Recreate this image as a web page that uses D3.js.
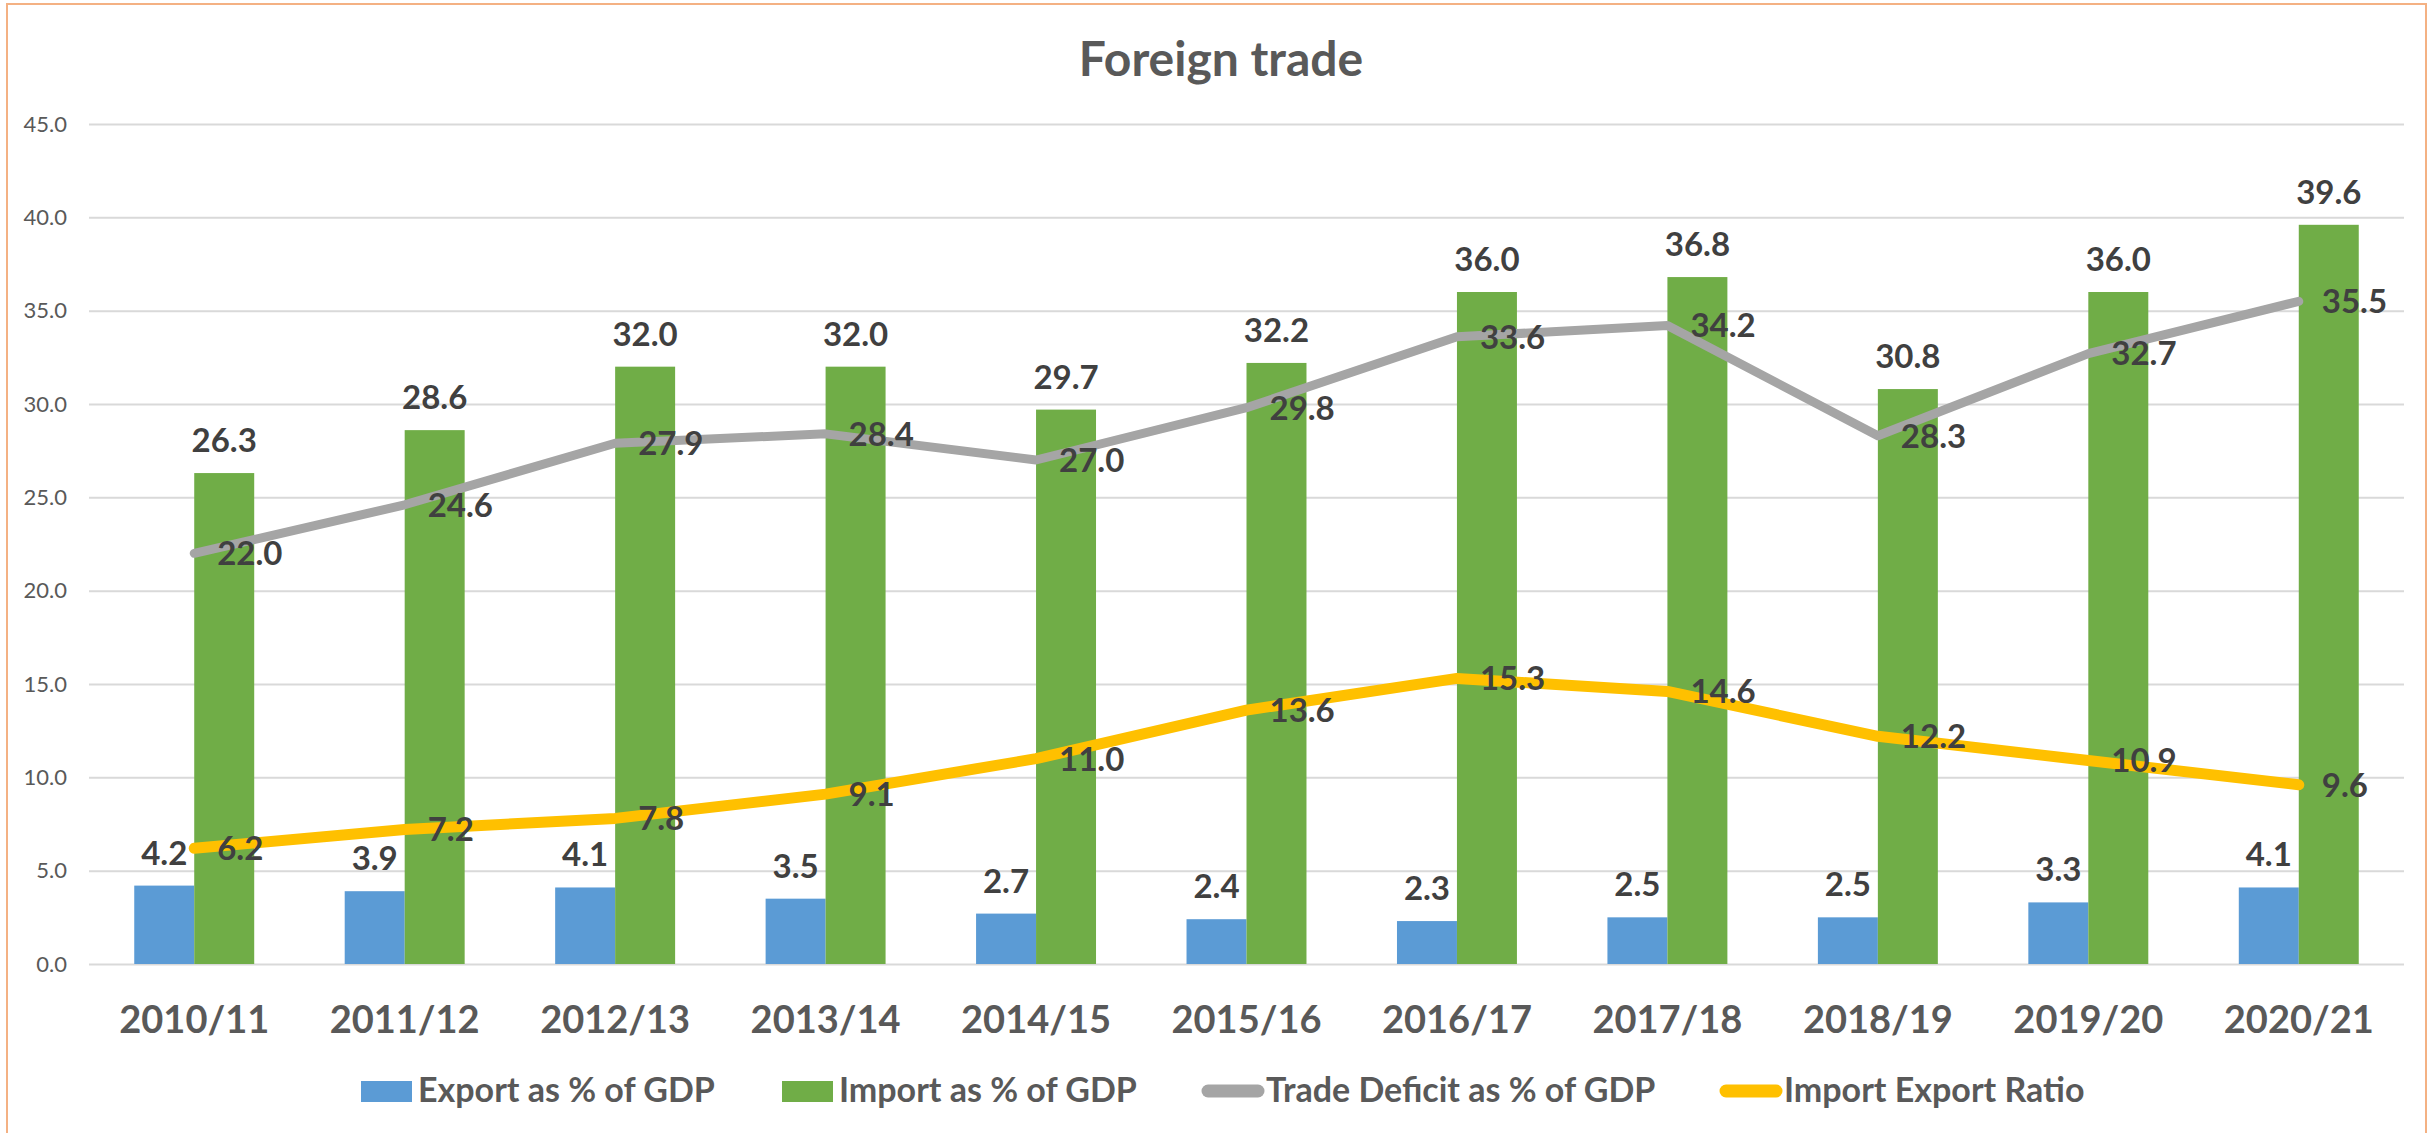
<!DOCTYPE html>
<html>
<head>
<meta charset="utf-8">
<script src="https://cdn.jsdelivr.net/npm/d3@7"></script>
<style>
    body { margin: 0; background: #fff; }
    svg text { font-family: Lato, "Open Sans", sans-serif; }
</style>
</head>
<body>
<div id="chart"></div>
<script>
// values
var years = ["2010/11", "2011/12", "2012/13", "2013/14", "2014/15", "2015/16",
             "2016/17", "2017/18", "2018/19", "2019/20", "2020/21"];
var exportPct = [4.2, 3.9, 4.1, 3.5, 2.7, 2.4, 2.3, 2.5, 2.5, 3.3, 4.1];
var importPct = [26.3, 28.6, 32.0, 32.0, 29.7, 32.2, 36.0, 36.8, 30.8, 36.0, 39.6];
var deficitPct = [22.0, 24.6, 27.9, 28.4, 27.0, 29.8, 33.6, 34.2, 28.3, 32.7, 35.5];
var importExportRatio = [6.2, 7.2, 7.8, 9.1, 11.0, 13.6, 15.3, 14.6, 12.2, 10.9, 9.6];
var yTicks = [0, 5, 10, 15, 20, 25, 30, 35, 40, 45];

var legendItems = [
    { name: "Export as % of GDP", color: "#5B9BD5", type: "bar" },
    { name: "Import as % of GDP", color: "#70AD47", type: "bar" },
    { name: "Trade Deficit as % of GDP", color: "#A5A5A5", type: "line" },
    { name: "Import Export Ratio", color: "#FFC000", type: "line" }
];

var width = 2430,
    height = 1133,
    plotLeft = 89,
    plotRight = 2404,
    plotTop = 124,
    plotBottom = 964;

var svg = d3.select("#chart")
    .append("svg")
    .attr("width", width)
    .attr("height", height);

// chart border
svg.append("rect")
    .attr("x", 7).attr("y", 4)
    .attr("width", 2419).attr("height", 1140)
    .attr("fill", "none")
    .attr("stroke", "#F4B183")
    .attr("stroke-width", 2);

svg.append("text")
    .attr("x", 1221).attr("y", 76)
    .attr("text-anchor", "middle")
    .attr("font-size", 48)
    .attr("font-weight", "bold")
    .attr("fill", "#595959")
    .text("Foreign trade");

var x = d3.scaleBand()
    .domain(years)
    .range([plotLeft, plotRight])
    .paddingInner(0.43)
    .paddingOuter(0.215);

var xSub = d3.scaleBand()
    .domain(["export", "import"])
    .range([0, x.bandwidth()]);

var y = d3.scaleLinear()
    .domain([0, 45])
    .range([plotBottom, plotTop]);

var mid = function(d) { return x(d) + x.bandwidth() / 2; };

/* gridlines + y labels */
var yAxis = d3.axisLeft(y)
    .tickValues(yTicks)
    .tickFormat(d3.format(".1f"))
    .tickSize(-(plotRight - plotLeft))
    .tickPadding(22);

var gy = svg.append("g")
    .attr("transform", "translate(" + plotLeft + ",0)")
    .call(yAxis);
gy.select(".domain").remove();
gy.selectAll("line").attr("stroke", "#D9D9D9").attr("stroke-width", 2);
gy.selectAll("text")
    .attr("font-size", 22)
    .attr("fill", "#595959")
    .style("font-family", "Lato, sans-serif");

/* x labels */
var xAxis = d3.axisBottom(x).tickSize(0).tickPadding(0);
var gx = svg.append("g")
    .attr("transform", "translate(0," + plotBottom + ")")
    .call(xAxis);
gx.select(".domain").remove();
gx.selectAll("text")
    .attr("y", 69)
    .attr("dy", 0)
    .attr("font-size", 38)
    .attr("font-weight", "bold")
    .attr("fill", "#595959")
    .style("font-family", "Lato, sans-serif");

/* bars */
var bars = [
    { key: "export", values: exportPct, color: "#5B9BD5" },
    { key: "import", values: importPct, color: "#70AD47" }
];

bars.forEach(function(s) {
    svg.append("g")
        .selectAll("rect")
        .data(years)
        .enter().append("rect")
        .attr("x", function(d) { return x(d) + xSub(s.key); })
        .attr("y", function(d, i) { return y(s.values[i]); })
        .attr("width", xSub.bandwidth())
        .attr("height", function(d, i) { return plotBottom - y(s.values[i]); })
        .attr("fill", s.color);
});

/* lines */
var lines = [
    { values: deficitPct, color: "#A5A5A5", width: 9 },
    { values: importExportRatio, color: "#FFC000", width: 11 }
];

lines.forEach(function(s) {
    var line = d3.line()
        .x(function(d, i) { return mid(years[i]); })
        .y(function(d) { return y(d); });
    svg.append("path")
        .datum(s.values)
        .attr("d", line)
        .attr("fill", "none")
        .attr("stroke", s.color)
        .attr("stroke-width", s.width)
        .attr("stroke-linecap", "round")
        .attr("stroke-linejoin", "round");
});

/* data labels */
var fmt = d3.format(".1f");

bars.forEach(function(s) {
    svg.append("g")
        .selectAll("text")
        .data(years)
        .enter().append("text")
        .attr("x", function(d) { return x(d) + xSub(s.key) + xSub.bandwidth() / 2; })
        .attr("y", function(d, i) { return y(s.values[i]) - 21; })
        .attr("text-anchor", "middle")
        .attr("font-size", 33)
        .attr("font-weight", "bold")
        .attr("fill", "#404040")
        .text(function(d, i) { return fmt(s.values[i]); });
});

lines.forEach(function(s) {
    svg.append("g")
        .selectAll("text")
        .data(years)
        .enter().append("text")
        .attr("x", function(d) { return mid(d) + 23; })
        .attr("y", function(d, i) { return y(s.values[i]); })
        .attr("dy", "0.36em")
        .attr("font-size", 33)
        .attr("font-weight", "bold")
        .attr("fill", "#404040")
        .text(function(d, i) { return fmt(s.values[i]); });
});

/* legend */
var legendX = [361, 782, 1202, 1720];
var legend = svg.append("g");
legendItems.forEach(function(item, i) {
    var g = legend.append("g").attr("transform", "translate(" + legendX[i] + ",0)");
    if (item.type === "bar") {
        g.append("rect")
            .attr("x", 0).attr("y", 1081)
            .attr("width", 51).attr("height", 21)
            .attr("fill", item.color);
        g.append("text")
            .attr("x", 57).attr("y", 1102)
            .attr("font-size", 34)
            .attr("font-weight", "bold")
            .attr("fill", "#595959")
            .text(item.name);
    } else {
        g.append("line")
            .attr("x1", 6).attr("x2", 56)
            .attr("y1", 1091).attr("y2", 1091)
            .attr("stroke", item.color)
            .attr("stroke-width", 13)
            .attr("stroke-linecap", "round");
        g.append("text")
            .attr("x", 64).attr("y", 1102)
            .attr("font-size", 34)
            .attr("font-weight", "bold")
            .attr("fill", "#595959")
            .text(item.name);
    }
});
</script>
</body>
</html>
